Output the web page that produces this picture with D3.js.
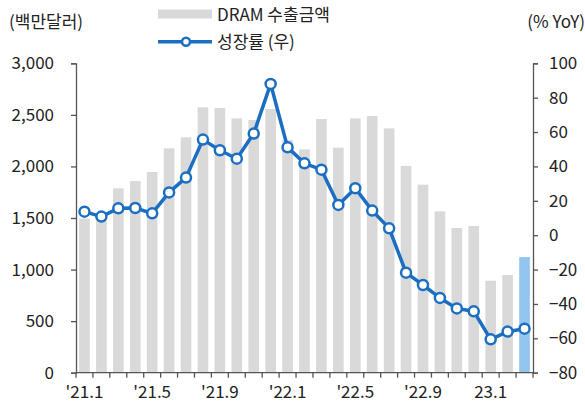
<!DOCTYPE html>
<html><head><meta charset="utf-8">
<script src="https://cdn.jsdelivr.net/npm/d3@7"></script>
<style>body{margin:0;background:#fff}svg{display:block}text{font-family:"Noto Sans CJK KR","Noto Sans",sans-serif;fill:#222}</style>
</head><body><svg id="c" width="585" height="405"></svg>
<script>
const months = ["21.01","21.02","21.03","21.04","21.05","21.06","21.07","21.08","21.09","21.10","21.11","21.12",
"22.01","22.02","22.03","22.04","22.05","22.06","22.07","22.08","22.09","22.10","22.11","22.12","23.01","23.02","23.03"];
const exportsDRAM = [1495,1470,1787,1858,1946,2175,2282,2573,2566,2466,2450,2557,2256,2165,2460,2182,2466,2489,2369,2004,1823,1564,1403,1422,892,947,1121];
const growthYoY = [13.7,10.8,15.6,15.8,12.7,24.9,33.5,55.6,49.4,44.5,59.1,88,51.1,41.8,38.1,17.6,27.3,14.3,4,-21.8,-29,-36.5,-42.6,-44.3,-60.6,-56.1,-54.4];
const xTickLabels = {"21.01":"'21.1","21.05":"'21.5","21.09":"'21.9","22.01":"'22.1","22.05":"'22.5","22.09":"'22.9","23.01":"23.1"};
const leftTicks = [0,500,1000,1500,2000,2500,3000];
const rightTicks = [-80,-60,-40,-20,0,20,40,60,80,100];

const svg = d3.select("#c");
const L = 76, R = 533, T = 63.3, B = 372.7;
const x = d3.scaleBand().domain(months).range([L, R]).paddingInner(0.37).paddingOuter(0.185);
const yL = d3.scaleLinear().domain([0,3000]).range([B, T]);
const yR = d3.scaleLinear().domain([-80,100]).range([B, T]);
const axisCol = "#555";
const fs = 17;

// bars
svg.append("g").selectAll("rect").data(months).join("rect")
  .attr("x", d => x(d)).attr("width", x.bandwidth())
  .attr("y", (d,i) => yL(exportsDRAM[i])).attr("height", (d,i) => B - yL(exportsDRAM[i]))
  .attr("fill", (d,i) => i === months.length-1 ? "#92c5f0" : "#d9d9d9");

// left axis
const gl = svg.append("g").attr("transform", `translate(${L},0)`)
  .call(d3.axisLeft(yL).tickValues(leftTicks).tickFormat(d3.format(",")).tickSize(5).tickPadding(17));
// right axis
const gr = svg.append("g").attr("transform", `translate(${R},0)`)
  .call(d3.axisRight(yR).tickValues(rightTicks).tickSize(5).tickPadding(11));
// bottom axis: ticks at band boundaries
const boundaries = d3.range(months.length + 1).map(i => L + i * (R - L) / months.length);
const gb = svg.append("g");
gb.append("line").attr("x1", L).attr("x2", R).attr("y1", B).attr("y2", B).attr("stroke", axisCol).attr("stroke-width", 1.3);
gb.selectAll("line.t").data(boundaries).join("line").attr("class","t")
  .attr("x1", d => d).attr("x2", d => d).attr("y1", B).attr("y2", B + 5).attr("stroke", axisCol).attr("stroke-width", 1.3);
gb.selectAll("text").data(months.filter(m => xTickLabels[m])).join("text")
  .attr("x", d => x(d) + x.bandwidth()/2).attr("y", 398).attr("text-anchor","middle")
  .attr("font-size", fs).text(d => xTickLabels[d]);

[gl, gr].forEach(g => {
  g.select(".domain").attr("stroke", axisCol).attr("stroke-width", 1.3);
  g.selectAll(".tick line").attr("stroke", axisCol).attr("stroke-width", 1.3);
  g.selectAll(".tick text").attr("font-size", fs).attr("fill", "#222")
   .style("font-family", '"Noto Sans CJK KR","Noto Sans",sans-serif');
});

// line
const cx = (d,i) => x(months[i]) + x.bandwidth()/2;
svg.append("path").datum(growthYoY)
  .attr("d", d3.line().x(cx).y(d => yR(d)))
  .attr("fill","none").attr("stroke","#1b6ec2").attr("stroke-width",3.5).attr("stroke-linejoin","round");
svg.append("g").selectAll("circle").data(growthYoY).join("circle")
  .attr("cx", cx).attr("cy", d => yR(d)).attr("r", 5)
  .attr("fill","#fff").attr("stroke","#1b6ec2").attr("stroke-width",2.5);

// axis titles
svg.append("text").attr("x", 9).attr("y", 27.5).attr("font-size", fs).text("(백만달러)");
svg.append("text").attr("x", 585).attr("y", 27.5).attr("text-anchor","end").attr("font-size", fs).text("(% YoY)");

// legend
const lg = svg.append("g");
lg.append("rect").attr("x", 158).attr("y", 9.5).attr("width", 54).attr("height", 9).attr("fill", "#d9d9d9");
lg.append("text").attr("x", 217).attr("y", 20.5).attr("font-size", fs).text("DRAM 수출금액");
lg.append("line").attr("x1", 158).attr("x2", 212).attr("y1", 41.7).attr("y2", 41.7).attr("stroke","#1b6ec2").attr("stroke-width",3.5);
lg.append("circle").attr("cx", 186).attr("cy", 41.7).attr("r", 4).attr("fill","#fff").attr("stroke","#1b6ec2").attr("stroke-width",2.5);
lg.append("text").attr("x", 217).attr("y", 48).attr("font-size", fs).text("성장률 (우)");
</script></body></html>
